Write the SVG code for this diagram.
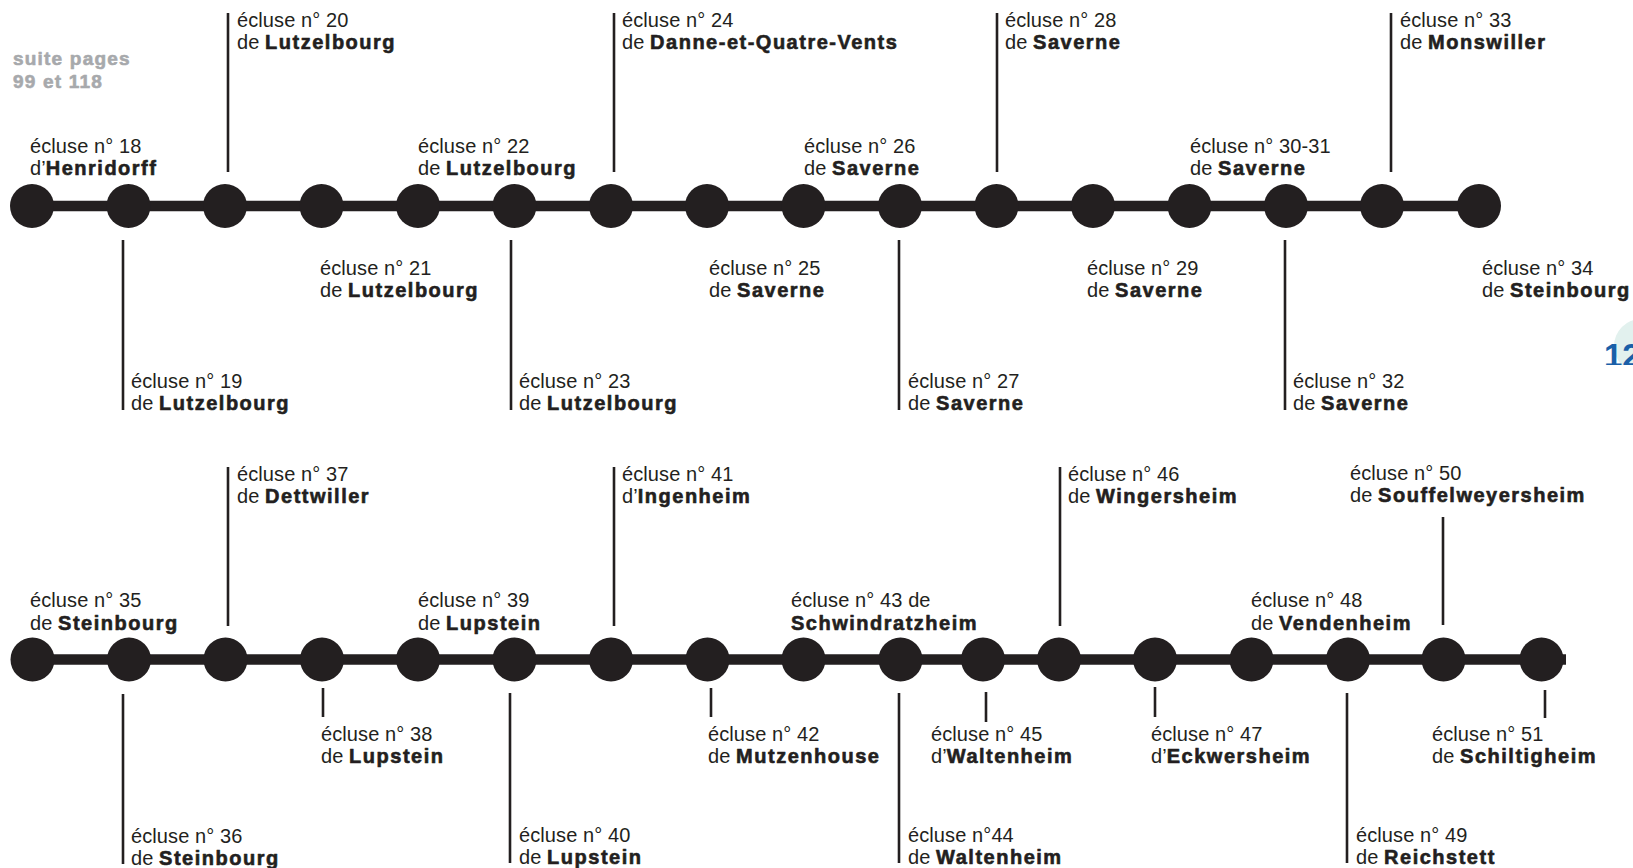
<svg xmlns="http://www.w3.org/2000/svg" width="1633" height="868" viewBox="0 0 1633 868">
<style>
.t{font-family:"Liberation Sans",Arial,sans-serif;font-size:20px;fill:#231f20;letter-spacing:0.1px}
.b{font-weight:bold;letter-spacing:1.5px;stroke:#231f20;stroke-width:0.6px;stroke-linejoin:round}
.n{fill:#231f20}
.rail{stroke:#231f20;stroke-width:10.5;fill:none}
.lead{stroke:#231f20;stroke-width:2.6;fill:none}
.suite{font-family:"Liberation Sans",Arial,sans-serif;font-size:19px;font-weight:bold;fill:#a7a9ac;letter-spacing:1.2px;stroke:#a7a9ac;stroke-width:0.6px;stroke-linejoin:round}
.pg{font-family:"Liberation Sans",Arial,sans-serif;font-size:33px;font-weight:bold;fill:#1a5fa8}
</style>
<defs>
<clipPath id="pgclip"><rect x="1500" y="300" width="133" height="65"/></clipPath>
</defs>
<rect width="1633" height="868" fill="#ffffff"/>

<g id="page-number" clip-path="url(#pgclip)">
<circle cx="1641" cy="346" r="27" fill="#e2f1ee"/>
<text class="pg" x="1604" y="367">12</text>
</g>

<g id="suite">
<text class="suite" x="13" y="65">suite pages</text>
<text class="suite" x="13" y="88">99 et 118</text>
</g>

<g id="connectors">
<line class="rail" x1="32" y1="206" x2="1479" y2="206"/>
<line class="rail" x1="32" y1="659.5" x2="1566" y2="659.5"/>
<line class="lead" x1="123" y1="240" x2="123" y2="410"/>
<line class="lead" x1="228" y1="13" x2="228" y2="172"/>
<line class="lead" x1="511" y1="240" x2="511" y2="410"/>
<line class="lead" x1="614" y1="13" x2="614" y2="172"/>
<line class="lead" x1="899" y1="240" x2="899" y2="410"/>
<line class="lead" x1="997" y1="13" x2="997" y2="172"/>
<line class="lead" x1="1285" y1="240" x2="1285" y2="410"/>
<line class="lead" x1="1391" y1="13" x2="1391" y2="172"/>
<line class="lead" x1="123" y1="694" x2="123" y2="864"/>
<line class="lead" x1="228" y1="467" x2="228" y2="626"/>
<line class="lead" x1="323" y1="688" x2="323" y2="717"/>
<line class="lead" x1="510" y1="693" x2="510" y2="863"/>
<line class="lead" x1="614" y1="467" x2="614" y2="626"/>
<line class="lead" x1="711" y1="688" x2="711" y2="717"/>
<line class="lead" x1="899" y1="693" x2="899" y2="863"/>
<line class="lead" x1="986" y1="692" x2="986" y2="722"/>
<line class="lead" x1="1060" y1="467" x2="1060" y2="626"/>
<line class="lead" x1="1155" y1="687" x2="1155" y2="717"/>
<line class="lead" x1="1347" y1="693" x2="1347" y2="863"/>
<line class="lead" x1="1443" y1="517" x2="1443" y2="625"/>
<line class="lead" x1="1545" y1="690" x2="1545" y2="718"/>
</g>

<g id="lock-18"><circle class="n" cx="32" cy="206" r="22"/>
<text class="t" x="30" y="153">écluse n° 18</text><text class="t" x="30" y="175">d’<tspan class="b">Henridorff</tspan></text></g>
<g id="lock-19"><circle class="n" cx="128.5" cy="206" r="22"/>
<text class="t" x="131" y="388">écluse n° 19</text><text class="t" x="131" y="410">de <tspan class="b">Lutzelbourg</tspan></text></g>
<g id="lock-20"><circle class="n" cx="225" cy="206" r="22"/>
<text class="t" x="237" y="27">écluse n° 20</text><text class="t" x="237" y="49">de <tspan class="b">Lutzelbourg</tspan></text></g>
<g id="lock-21"><circle class="n" cx="321.5" cy="206" r="22"/>
<text class="t" x="320" y="275">écluse n° 21</text><text class="t" x="320" y="297">de <tspan class="b">Lutzelbourg</tspan></text></g>
<g id="lock-22"><circle class="n" cx="418" cy="206" r="22"/>
<text class="t" x="418" y="153">écluse n° 22</text><text class="t" x="418" y="175">de <tspan class="b">Lutzelbourg</tspan></text></g>
<g id="lock-23"><circle class="n" cx="514.5" cy="206" r="22"/>
<text class="t" x="519" y="388">écluse n° 23</text><text class="t" x="519" y="410">de <tspan class="b">Lutzelbourg</tspan></text></g>
<g id="lock-24"><circle class="n" cx="611" cy="206" r="22"/>
<text class="t" x="622" y="27">écluse n° 24</text><text class="t" x="622" y="49">de <tspan class="b">Danne-et-Quatre-Vents</tspan></text></g>
<g id="lock-25"><circle class="n" cx="707" cy="206" r="22"/>
<text class="t" x="709" y="275">écluse n° 25</text><text class="t" x="709" y="297">de <tspan class="b">Saverne</tspan></text></g>
<g id="lock-26"><circle class="n" cx="803.5" cy="206" r="22"/>
<text class="t" x="804" y="153">écluse n° 26</text><text class="t" x="804" y="175">de <tspan class="b">Saverne</tspan></text></g>
<g id="lock-27"><circle class="n" cx="900" cy="206" r="22"/>
<text class="t" x="908" y="388">écluse n° 27</text><text class="t" x="908" y="410">de <tspan class="b">Saverne</tspan></text></g>
<g id="lock-28"><circle class="n" cx="996.5" cy="206" r="22"/>
<text class="t" x="1005" y="27">écluse n° 28</text><text class="t" x="1005" y="49">de <tspan class="b">Saverne</tspan></text></g>
<g id="lock-29"><circle class="n" cx="1093" cy="206" r="22"/>
<text class="t" x="1087" y="275">écluse n° 29</text><text class="t" x="1087" y="297">de <tspan class="b">Saverne</tspan></text></g>
<g id="lock-30-31"><circle class="n" cx="1189.5" cy="206" r="22"/>
<text class="t" x="1190" y="153">écluse n° 30-31</text><text class="t" x="1190" y="175">de <tspan class="b">Saverne</tspan></text></g>
<g id="lock-32"><circle class="n" cx="1286" cy="206" r="22"/>
<text class="t" x="1293" y="388">écluse n° 32</text><text class="t" x="1293" y="410">de <tspan class="b">Saverne</tspan></text></g>
<g id="lock-33"><circle class="n" cx="1382" cy="206" r="22"/>
<text class="t" x="1400" y="27">écluse n° 33</text><text class="t" x="1400" y="49">de <tspan class="b">Monswiller</tspan></text></g>
<g id="lock-34"><circle class="n" cx="1479" cy="206" r="22"/>
<text class="t" x="1482" y="275">écluse n° 34</text><text class="t" x="1482" y="297">de <tspan class="b">Steinbourg</tspan></text></g>

<g id="lock-35"><circle class="n" cx="32.5" cy="659.5" r="22"/>
<text class="t" x="30" y="607">écluse n° 35</text><text class="t" x="30" y="630">de <tspan class="b">Steinbourg</tspan></text></g>
<g id="lock-36"><circle class="n" cx="129" cy="659.5" r="22"/>
<text class="t" x="131" y="843">écluse n° 36</text><text class="t" x="131" y="865">de <tspan class="b">Steinbourg</tspan></text></g>
<g id="lock-37"><circle class="n" cx="225.5" cy="659.5" r="22"/>
<text class="t" x="237" y="481">écluse n° 37</text><text class="t" x="237" y="503">de <tspan class="b">Dettwiller</tspan></text></g>
<g id="lock-38"><circle class="n" cx="322" cy="659.5" r="22"/>
<text class="t" x="321" y="741">écluse n° 38</text><text class="t" x="321" y="763">de <tspan class="b">Lupstein</tspan></text></g>
<g id="lock-39"><circle class="n" cx="418" cy="659.5" r="22"/>
<text class="t" x="418" y="607">écluse n° 39</text><text class="t" x="418" y="630">de <tspan class="b">Lupstein</tspan></text></g>
<g id="lock-40"><circle class="n" cx="514.5" cy="659.5" r="22"/>
<text class="t" x="519" y="842">écluse n° 40</text><text class="t" x="519" y="864">de <tspan class="b">Lupstein</tspan></text></g>
<g id="lock-41"><circle class="n" cx="611" cy="659.5" r="22"/>
<text class="t" x="622" y="481">écluse n° 41</text><text class="t" x="622" y="503">d’<tspan class="b">Ingenheim</tspan></text></g>
<g id="lock-42"><circle class="n" cx="707.5" cy="659.5" r="22"/>
<text class="t" x="708" y="741">écluse n° 42</text><text class="t" x="708" y="763">de <tspan class="b">Mutzenhouse</tspan></text></g>
<g id="lock-43"><circle class="n" cx="803.5" cy="659.5" r="22"/>
<text class="t" x="791" y="607">écluse n° 43 de</text><text class="t" x="791" y="630"><tspan class="b">Schwindratzheim</tspan></text></g>
<g id="lock-44"><circle class="n" cx="900.5" cy="659.5" r="22"/>
<text class="t" x="908" y="842">écluse n°44</text><text class="t" x="908" y="864">de <tspan class="b">Waltenheim</tspan></text></g>
<g id="lock-45"><circle class="n" cx="983" cy="659.5" r="22"/>
<text class="t" x="931" y="741">écluse n° 45</text><text class="t" x="931" y="763">d’<tspan class="b">Waltenheim</tspan></text></g>
<g id="lock-46"><circle class="n" cx="1059" cy="659.5" r="22"/>
<text class="t" x="1068" y="481">écluse n° 46</text><text class="t" x="1068" y="503">de <tspan class="b">Wingersheim</tspan></text></g>
<g id="lock-47"><circle class="n" cx="1155" cy="659.5" r="22"/>
<text class="t" x="1151" y="741">écluse n° 47</text><text class="t" x="1151" y="763">d’<tspan class="b">Eckwersheim</tspan></text></g>
<g id="lock-48"><circle class="n" cx="1251.5" cy="659.5" r="22"/>
<text class="t" x="1251" y="607">écluse n° 48</text><text class="t" x="1251" y="630">de <tspan class="b">Vendenheim</tspan></text></g>
<g id="lock-49"><circle class="n" cx="1348" cy="659.5" r="22"/>
<text class="t" x="1356" y="842">écluse n° 49</text><text class="t" x="1356" y="864">de <tspan class="b">Reichstett</tspan></text></g>
<g id="lock-50"><circle class="n" cx="1443.5" cy="659.5" r="22"/>
<text class="t" x="1350" y="480">écluse n° 50</text><text class="t" x="1350" y="502">de <tspan class="b">Souffelweyersheim</tspan></text></g>
<g id="lock-51"><circle class="n" cx="1541.5" cy="659.5" r="22"/>
<text class="t" x="1432" y="741">écluse n° 51</text><text class="t" x="1432" y="763">de <tspan class="b">Schiltigheim</tspan></text></g>
</svg>
